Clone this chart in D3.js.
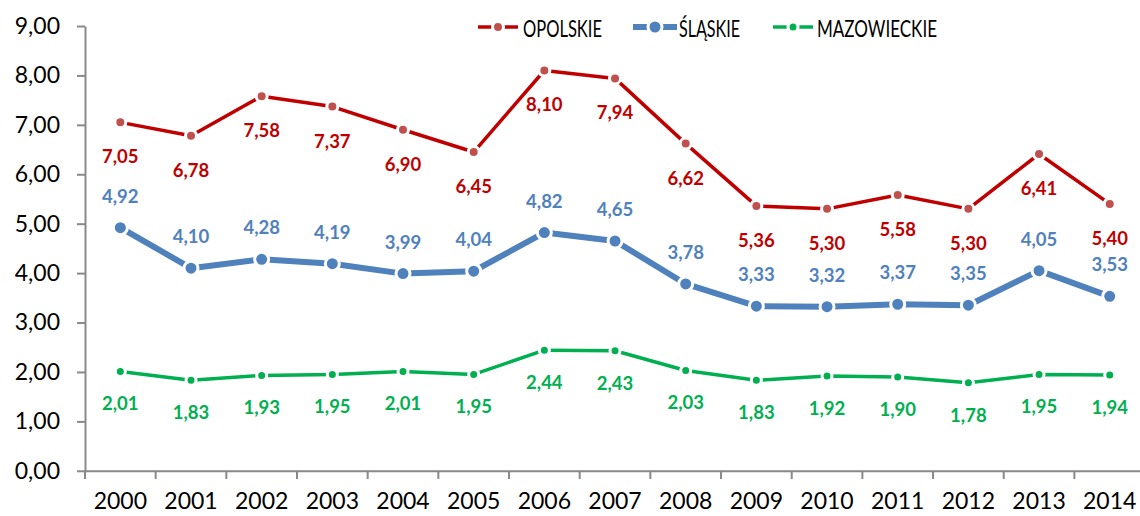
<!DOCTYPE html>
<html><head><meta charset="utf-8">
<script src="https://cdn.jsdelivr.net/npm/d3@7"></script>
<style>body{margin:0;background:#fff}svg{display:block}text{font-family:Lato,"Open Sans",sans-serif}</style>
</head><body>
<svg id="c" width="1140" height="516"></svg>
<script>
const years = ["2000","2001","2002","2003","2004","2005","2006","2007","2008","2009","2010","2011","2012","2013","2014"];
const opolskie = [7.05,6.78,7.58,7.37,6.90,6.45,8.10,7.94,6.62,5.36,5.30,5.58,5.30,6.41,5.40];
const slaskie = [4.92,4.10,4.28,4.19,3.99,4.04,4.82,4.65,3.78,3.33,3.32,3.37,3.35,4.05,3.53];
const mazowieckie = [2.01,1.83,1.93,1.95,2.01,1.95,2.44,2.43,2.03,1.83,1.92,1.90,1.78,1.95,1.94];
const yTicks = [0,1,2,3,4,5,6,7,8,9];
const seriesNames = ["OPOLSKIE","ŚLĄSKIE","MAZOWIECKIE"];

const series = [
  {name:seriesNames[0], values:opolskie, line:"#C00000", marker:"#C0504D", label:"#C00000", lw:3.5, r:5.5, dy:34, lx:[478,518], tx:523, tw:79},
  {name:seriesNames[1], values:slaskie, line:"#4F81BD", marker:"#4F81BD", label:"#4F81BD", lw:6, r:7, dy:-32, lx:[633,677], tx:679, tw:61},
  {name:seriesNames[2], values:mazowieckie, line:"#00B050", marker:"#00B050", label:"#00B050", lw:3.5, r:5, dy:32, lx:[773,813], tx:817, tw:120}
];

const svg = d3.select("#c");
const x = d3.scaleBand().domain(years).range([85, 85 + 15*70.67]);
const y = d3.scaleLinear().domain([0,9]).range([470.8, 26]);
const fmt = v => d3.format(".2f")(v).replace(".", ",");

const yAxis = svg.append("g").attr("transform","translate(85,0)")
  .call(d3.axisLeft(y).tickValues(yTicks).tickSize(8).tickSizeOuter(0).tickFormat(fmt).tickPadding(17));
const xAxis = svg.append("g").attr("transform","translate(0,470.8)")
  .call(d3.axisBottom(x).tickSize(0).tickSizeOuter(0).tickPadding(22));
[yAxis,xAxis].forEach(g=>{
  g.select(".domain").attr("stroke","#898989").attr("stroke-width",2);
  g.selectAll(".tick line").attr("stroke","#898989").attr("stroke-width",2);
  g.selectAll("text").attr("fill","#000").style("font-size","23px").style("font-family","Lato");
});
svg.append("g").selectAll("line").data(years.map((d,i)=>i).concat([15])).join("line")
  .attr("x1",i=>85+i*x.step()).attr("x2",i=>85+i*x.step())
  .attr("y1",470.8).attr("y2",479).attr("stroke","#898989").attr("stroke-width",2);

const line = d3.line().x((d,i)=>x(years[i])+x.bandwidth()/2).y(d=>y(d));
series.forEach(s=>{
  const g = svg.append("g");
  g.append("path").attr("d",line(s.values)).attr("fill","none").attr("stroke",s.line)
    .attr("stroke-width",s.lw).attr("stroke-linejoin","round");
  g.selectAll("circle").data(s.values).join("circle")
    .attr("cx",(d,i)=>x(years[i])+x.bandwidth()/2).attr("cy",d=>y(d)).attr("r",s.r)
    .attr("fill",s.marker).attr("stroke","#fff").attr("stroke-width",3);
  g.selectAll("text").data(s.values).join("text")
    .attr("x",(d,i)=>x(years[i])+x.bandwidth()/2).attr("y",d=>y(d)+s.dy)
    .attr("text-anchor","middle").attr("dominant-baseline","central")
    .attr("fill",s.label).style("font-weight","bold").style("font-size","18.5px").text(fmt);
  const lg = svg.append("g");
  lg.append("line").attr("x1",s.lx[0]).attr("x2",s.lx[1]).attr("y1",27).attr("y2",27)
    .attr("stroke",s.line).attr("stroke-width",s.lw);
  lg.append("circle").attr("cx",(s.lx[0]+s.lx[1])/2).attr("cy",27).attr("r",s.r)
    .attr("fill",s.marker).attr("stroke","#fff").attr("stroke-width",3);
  lg.append("text").attr("x",s.tx).attr("y",28).attr("dominant-baseline","central")
    .attr("textLength",s.tw).attr("lengthAdjust","spacingAndGlyphs")
    .style("font-size","22.5px").attr("fill","#000").text(s.name);
});
</script>
</body></html>
